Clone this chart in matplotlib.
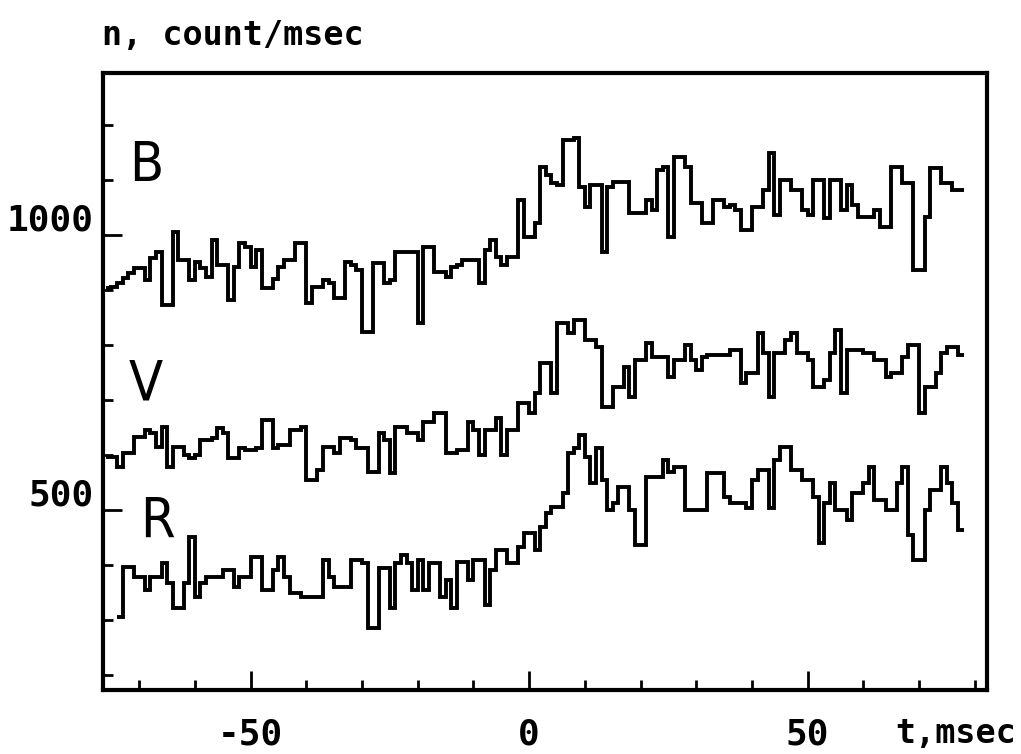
import numpy as np
import matplotlib
matplotlib.use("Agg")
import matplotlib.pyplot as plt
from matplotlib.ticker import MultipleLocator, FixedLocator
from matplotlib.transforms import ScaledTranslation

# count rates, 1 ms bins (count/msec)
b_start = -76
b_counts = [904, 905, 913, 922, 931, 940, 940, 918, 958, 969,
            873, 873, 1005, 955, 955, 918, 951, 940, 924, 991,
            945, 945, 882, 942, 985, 978, 942, 973, 904, 904,
            920, 942, 955, 955, 985, 985, 876, 905, 905, 918,
            913, 885, 885, 951, 945, 936, 824, 824, 949, 949,
            913, 918, 969, 969, 969, 969, 840, 978, 978, 933,
            933, 924, 942, 945, 955, 955, 955, 913, 973, 991,
            960, 945, 960, 960, 1064, 996,
            996, 1022, 1124, 1109, 1095, 1091, 1173, 1173, 1176, 1087,
            1051, 1091, 1091, 969, 1087, 1096, 1096, 1096, 1040, 1040,
            1040, 1064, 1045, 1118, 1124, 996, 1142, 1142, 1124, 1058,
            1058, 1022, 1022, 1064, 1064, 1051, 1055, 1045, 1009, 1009,
            1051, 1051, 1082, 1149, 1036, 1100, 1100, 1082, 1082, 1045,
            1036, 1100, 1100, 1031, 1100, 1100, 1045, 1091, 1055, 1033,
            1033, 1033, 1045, 1015, 1015, 1124, 1124, 1095, 1095, 936,
            936, 1033, 1122, 1122, 1095, 1095, 1082, 1082]

v_start = -76
v_counts = [596, 596, 578, 604, 604, 633, 633, 645, 640, 615,
            651, 578, 615, 615, 600, 595, 600, 627, 627, 631,
            649, 640, 595, 595, 613, 609, 609, 613, 664, 664,
            613, 618, 618, 645, 645, 651, 555, 555, 573, 615,
            615, 604, 631, 631, 627, 613, 613, 569, 569, 640,
            627, 567, 651, 651, 640, 640, 627, 660, 660, 676,
            676, 604, 604, 609, 609, 660, 645, 600, 645, 645,
            667, 600, 645, 645, 695, 695,
            676, 713, 767, 767, 713, 840, 840, 822, 845, 845,
            809, 809, 796, 687, 687, 724, 724, 760, 705, 773,
            773, 804, 778, 778, 778, 742, 773, 773, 800, 773,
            755, 778, 782, 782, 782, 782, 791, 791, 731, 749,
            749, 822, 785, 705, 785, 785, 809, 822, 785, 785,
            773, 724, 724, 736, 785, 827, 713, 791, 791, 791,
            785, 785, 773, 773, 742, 749, 749, 778, 800, 800,
            676, 724, 724, 749, 785, 796, 796, 782]

r_start = -74
r_counts = [306, 396, 396, 378, 378, 355, 378, 378, 404, 367,
            322, 322, 367, 451, 342, 367, 378, 378, 378, 391,
            391, 360, 378, 378, 415, 415, 355, 355, 391, 415,
            378, 349, 349, 342, 342, 342, 342, 409, 378, 360,
            360, 360, 409, 409, 404, 286, 286, 395, 395, 322,
            404, 418, 404, 355, 409, 355, 404, 404, 342, 373,
            322, 405, 405, 373, 409, 409, 327, 391, 427, 427,
            404, 404, 433, 458,
            458, 427, 469, 495, 505, 505, 531, 604, 613, 636,
            596, 549, 613, 555, 500, 513, 542, 542, 500, 436,
            436, 560, 560, 560, 591, 570, 578, 578, 500, 500,
            500, 500, 567, 567, 567, 524, 513, 513, 513, 504,
            555, 573, 573, 504, 591, 615, 615, 573, 573, 555,
            555, 524, 440, 513, 549, 500, 500, 482, 531, 531,
            549, 578, 518, 518, 500, 500, 549, 578, 455, 409,
            409, 500, 536, 536, 578, 549, 513, 464]

series = [("B", b_start, b_counts, 1125),
          ("V", v_start, v_counts, 729),
          ("R", r_start, r_counts, 478)]

mono = ["DejaVu Sans Mono"]

fig = plt.figure(figsize=(10.21, 7.54), dpi=100)
ax = fig.add_axes([0.1009, 0.0849, 0.8658, 0.8183])

for name, start, counts, label_y in series:
    edges = start + np.arange(len(counts) + 1)
    ax.stairs(counts, edges, baseline=None, color="black", linewidth=2.8)
    ax.text(start + 7.2, label_y, name, fontsize=40, fontstretch="condensed",
            ha="center", va="center", color="black")

ax.set_xlim(-76.5, 82.2)
ax.set_ylim(173, 1295)

ax.xaxis.set_major_locator(FixedLocator([-50, 0, 50]))
ax.xaxis.set_minor_locator(MultipleLocator(10))
ax.yaxis.set_major_locator(FixedLocator([500, 1000]))
ax.yaxis.set_minor_locator(MultipleLocator(100))
ax.set_xticklabels(["-50", "0", "50"], family=mono, fontsize=26, fontweight="bold")
ax.set_yticklabels(["500", "1000"], family=mono, fontsize=26, fontweight="bold")

ax.tick_params(which="major", direction="in", length=14, width=2)
ax.tick_params(which="minor", direction="in", length=7, width=2)
ax.tick_params(axis="x", which="major", pad=20)
ax.tick_params(axis="y", which="major", pad=7)
ax.tick_params(top=False, right=False)

# y labels sit a little above their ticks
for lab in ax.get_yticklabels():
    lab.set_transform(lab.get_transform() + ScaledTranslation(0, 0.18, fig.dpi_scale_trans))

for s in ax.spines.values():
    s.set_linewidth(3)

fig.text(102 / 1021, 1 - 35 / 754, "n, count/msec", family=mono, fontsize=24,
         fontweight="bold", ha="left", va="center")
fig.text(895 / 1021, 1 - 733 / 754, "t,msec", family=mono, fontsize=24,
         fontweight="bold", ha="left", va="center")

fig.savefig("out.png", dpi=100)
